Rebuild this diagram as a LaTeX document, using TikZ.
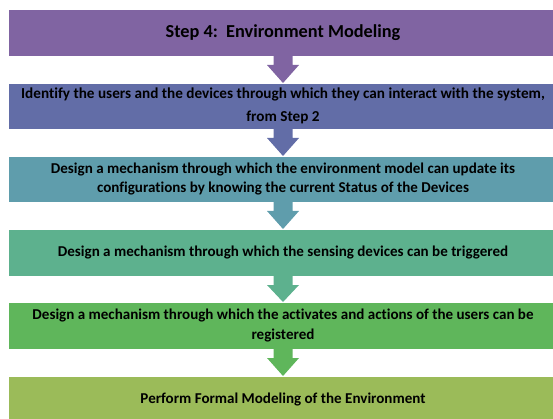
\documentclass[tikz,border=0pt]{standalone}
\usepackage{fontspec}
\setmainfont{Carlito}[Ligatures={NoCommon}]
\usetikzlibrary{calc}
\definecolor{cA}{HTML}{8064A2}
\definecolor{cB}{HTML}{626DA7}
\definecolor{cC}{HTML}{5F9DAC}
\definecolor{cD}{HTML}{5DB18E}
\definecolor{cE}{HTML}{5FB65B}
\definecolor{cF}{HTML}{9BBB59}
\tikzset{
  stepbox/.style={rectangle, draw=white, line width=0.6pt, minimum width=550pt, inner sep=0pt, outer sep=0pt, anchor=north, align=center, font=\bfseries\fontsize{15.05}{19.5}\selectfont, text=black},
}
\newcommand{\fatarrow}[3]{%
  \fill[#3] ($(#1.south)+(-9.5,0)$) -- ($(#1.south)+(9.5,0)$) -- ($(#1.south)+(9.5,9)$) -- ($(#1.south)+(16,9)$) -- (#2.north) -- ($(#1.south)+(-16,9)$) -- ($(#1.south)+(-9.5,9)$) -- cycle;}
\begin{document}
\begin{tikzpicture}[x=1pt,y=-1pt]
\useasboundingbox (0,0) rectangle (553,419);
\clip (0,0) rectangle (553,419);
\node[stepbox, fill=cA, minimum height=47pt, font=\bfseries\fontsize{18.3}{21}\selectfont] (b1) at (283,9) {Step 4:\ \ Environment Modeling};
\node[stepbox, fill=cB, minimum height=46pt, font=\bfseries\fontsize{15.2}{23}\selectfont] (b2) at (283,83) {Identify the users and the devices through which they can interact with the system,\\from Step 2};
\node[stepbox, fill=cC, minimum height=46pt] (b3) at (283,156) {Design a mechanism through which the environment model can update its\\configurations by knowing the current Status of the Devices};
\node[stepbox, fill=cD, minimum height=47pt] (b4) at (283,229) {Design a mechanism through which the sensing devices can be triggered};
\node[stepbox, fill=cE, minimum height=47pt] (b5) at (283,302) {Design a mechanism through which the activates and actions of the users can be\\registered};
\node[stepbox, fill=cF, minimum height=46pt] (b6) at (283,376) {Perform Formal Modeling of the Environment};
\fatarrow{b1}{b2}{cA}
\fatarrow{b2}{b3}{cB}
\fatarrow{b3}{b4}{cC}
\fatarrow{b4}{b5}{cD}
\fatarrow{b5}{b6}{cE}
\end{tikzpicture}
\end{document}
